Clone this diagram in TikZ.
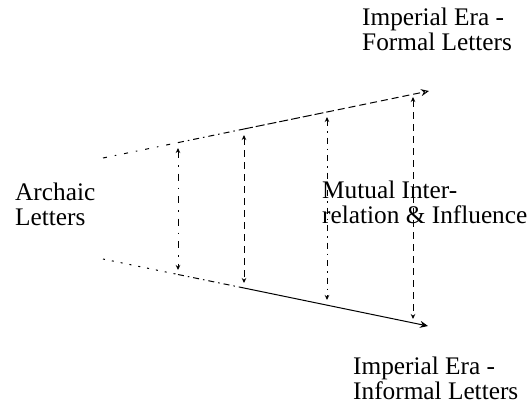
\documentclass[tikz,border=0pt]{standalone}
\usepackage{fontspec}
\setmainfont{Liberation Serif}
\usetikzlibrary{arrows.meta}
\begin{document}
\begin{tikzpicture}[x=1pt,y=-1pt,
  lbl/.style={anchor=base west,inner sep=0pt,align=left,
    font=\fontsize{25.3}{25}\selectfont},
  edge/.style={line width=1pt},
  vtip/.style={line width=1pt,{Stealth[length=5pt,width=4.5pt]}-{Stealth[length=5pt,width=4.5pt]}}
]
\useasboundingbox (0,0) rectangle (530,410);
% upper line points
\coordinate (u0) at (103,158);
\coordinate (u1) at (178,142.6);
\coordinate (u2) at (244,129);
\coordinate (u3) at (327,112);
\coordinate (u4) at (429,91);
% lower line points
\coordinate (l0) at (103,259);
\coordinate (l1) at (178,274.5);
\coordinate (l2) at (244,288);
\coordinate (l4) at (428,326);
% vertical arrow ends
\coordinate (a1) at (178,148);
\coordinate (b1) at (178,270);
\coordinate (a2) at (244,135);
\coordinate (b2) at (244,283);
\coordinate (a3) at (327,117);
\coordinate (b3) at (327,300);
\coordinate (a4) at (413,97);
\coordinate (b4) at (413,319);

% upper line
\draw[edge,dash pattern=on 4pt off 8pt on 1.5pt off 8pt] (u0) -- (u1);
\draw[edge,dash pattern=on 6pt off 4pt on 1.5pt off 4pt] (u1) -- (u2);
\draw[edge,dash pattern=on 9pt off 3pt] (u2) -- (u3);
\draw[edge,dash pattern=on 7pt off 4pt,-{Stealth[open,length=8pt,width=7pt]}] (u3) -- (u4);
% lower line
\draw[edge,dash pattern=on 2pt off 7pt] (l0) -- (l1);
\draw[edge,dash pattern=on 6pt off 4pt on 1.5pt off 4pt] (l1) -- (l2);
\draw[edge,-{Stealth[length=8pt,width=7pt]}] (l2) -- (l4);

% vertical arrows
\draw[vtip,dash pattern=on 7pt off 7pt on 1.5pt off 7pt] (a1) -- (b1);
\draw[vtip,dash pattern=on 7pt off 5pt] (a2) -- (b2);
\draw[vtip,dash pattern=on 6pt off 5pt on 1.5pt off 5pt] (a3) -- (b3);
\draw[vtip,dash pattern=on 7pt off 5pt] (a4) -- (b4);

% labels (anchored at the baseline of their last line)
\node[lbl] (formal) at (362,50) {Imperial Era -\\Formal Letters};
\node[lbl] (informal) at (353,399) {Imperial Era -\\Informal Letters};
\node[lbl] (archaic) at (15,225) {Archaic\\Letters};
\node[lbl] (mutual) at (322,223) {Mutual Inter-\\relation \& Influence};
\end{tikzpicture}
\end{document}
